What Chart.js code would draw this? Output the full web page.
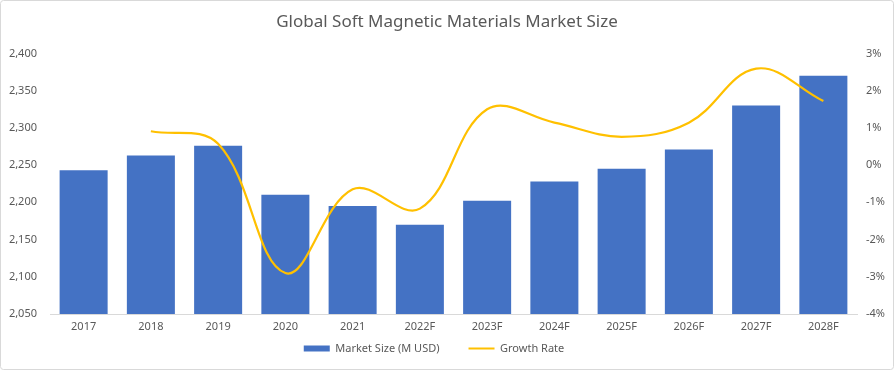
<!DOCTYPE html>
<html>
<head>
<meta charset="utf-8">
<script src="https://cdn.jsdelivr.net/npm/chart.js@4/dist/chart.umd.min.js"></script>
<style>
html,body{margin:0;padding:0;background:#fff;}
#wrap{width:894px;height:371px;position:relative;}
</style>
</head>
<body>
<div id="wrap"><canvas id="c" width="894" height="371"></canvas></div>
<script>
const categories = ['2017','2018','2019','2020','2021','2022F','2023F','2024F','2025F','2026F','2027F','2028F'];
const marketSize = [2243, 2263, 2276, 2210, 2195, 2170, 2202, 2228, 2245, 2271, 2330, 2370];
const growthRate = [null, 0.91, 0.57, -2.9, -0.65, -1.17, 1.5, 1.14, 0.76, 1.14, 2.59, 1.72];
const leftTicks = [2050, 2100, 2150, 2200, 2250, 2300, 2350, 2400];
const rightTicks = [-4, -3, -2, -1, 0, 1, 2, 3];

const FONT = 'Noto Sans';
const GREY = '#595959';

const borderPlugin = {
  id: 'outerBorder',
  beforeDraw(chart) {
    const ctx = chart.ctx;
    ctx.save();
    ctx.fillStyle = '#fff';
    ctx.fillRect(0, 0, chart.width, chart.height);
    ctx.restore();
  },
  afterLayout(chart) {
    // place the legend as Excel does: slightly left of centre, close under the axis labels
    const lg = chart.legend;
    if (lg) {
      lg.left -= 13; lg.right -= 13;
      lg.top -= 20; lg.height += 20;
    }
  },
  afterDraw(chart) {
    const ctx = chart.ctx;
    ctx.save();
    ctx.strokeStyle = '#D9D9D9';
    ctx.lineWidth = 1;
    ctx.beginPath();
    ctx.roundRect(0.5, 0.5, chart.width - 1, chart.height - 2, 3);
    ctx.stroke();
    ctx.restore();
  }
};

new Chart(document.getElementById('c'), {
  data: {
    labels: categories,
    datasets: [
      {
        type: 'line',
        label: 'Growth Rate',
        data: growthRate,
        yAxisID: 'y1',
        borderColor: '#FFC000',
        backgroundColor: '#FFC000',
        borderWidth: 2.2,
        pointRadius: 0,
        tension: 0.38,
        order: 0
      },
      {
        type: 'bar',
        label: 'Market Size (M USD)',
        data: marketSize,
        yAxisID: 'y',
        backgroundColor: '#4472C4',
        barPercentage: 0.714,
        categoryPercentage: 1,
        order: 1
      }
    ]
  },
  options: {
    responsive: false,
    animation: false,
    layout: { padding: { left: 0, right: 0, top: 0, bottom: 0 } },
    plugins: {
      title: {
        display: true,
        text: 'Global Soft Magnetic Materials Market Size',
        color: GREY,
        font: { family: FONT, size: 17, weight: 'normal' },
        padding: { top: 12, bottom: 21 }
      },
      legend: {
        position: 'bottom',
        maxHeight: 37,
        labels: {
          color: GREY,
          font: { family: FONT, size: 11 },
          usePointStyle: true,
          pointStyleWidth: 26,
          boxHeight: 6,
          padding: 29,
          generateLabels(chart) {
            const ds = chart.data.datasets;
            return [
              { text: ds[1].label, fillStyle: '#4472C4', strokeStyle: '#4472C4', lineWidth: 0, pointStyle: 'rect', datasetIndex: 1, fontColor: GREY },
              { text: ds[0].label, fillStyle: '#FFC000', strokeStyle: '#FFC000', lineWidth: 2, pointStyle: 'line', datasetIndex: 0, fontColor: GREY }
            ];
          }
        }
      },
      tooltip: { enabled: false }
    },
    scales: {
      x: {
        grid: { display: false, drawTicks: false },
        border: { display: true, color: '#D9D9D9', width: 1 },
        afterFit(scale) { scale.height = 20; },
        ticks: { color: GREY, font: { family: FONT, size: 11 }, padding: 6, maxRotation: 0 }
      },
      y: {
        position: 'left',
        min: leftTicks[0],
        max: leftTicks[leftTicks.length - 1],
        grid: { display: false, drawTicks: false },
        border: { display: false },
        afterBuildTicks(scale) { scale.ticks = leftTicks.map(v => ({ value: v })); },
        afterFit(scale) { scale.width = 50; },
        ticks: {
          color: GREY,
          font: { family: FONT, size: 11 },
          padding: 13,
          callback: v => v.toLocaleString('en-US')
        }
      },
      y1: {
        position: 'right',
        min: rightTicks[0],
        max: rightTicks[rightTicks.length - 1],
        grid: { display: false, drawTicks: false },
        border: { display: false },
        afterBuildTicks(scale) { scale.ticks = rightTicks.map(v => ({ value: v })); },
        afterFit(scale) { scale.width = 37; },
        ticks: {
          color: GREY,
          font: { family: FONT, size: 11 },
          padding: 9,
          callback: v => v + '%'
        }
      }
    }
  },
  plugins: [borderPlugin]
});
</script>
</body>
</html>
